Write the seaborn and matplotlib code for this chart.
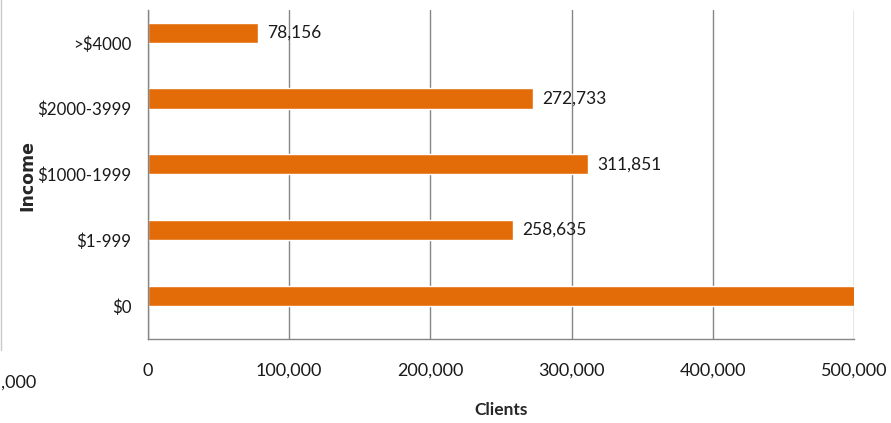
import matplotlib
matplotlib.use("Agg")
import matplotlib.pyplot as plt
import seaborn as sns
import pandas as pd
from matplotlib.lines import Line2D

categories = ["$0", "$1-999", "$1000-1999", "$2000-3999", ">$4000"]
clients = [560000, 258635, 311851, 272733, 78156]
labels = ["", "258,635", "311,851", "272,733", "78,156"]
xticks = [0, 100000, 200000, 300000, 400000, 500000]
xtick_labels = ["0", "100,000", "200,000", "300,000", "400,000", "500,000"]
series_levels = ["Clients", "(empty)"]

sns.set_theme(style="white")
plt.rcParams["font.family"] = ["Lato", "DejaVu Sans"]

df = pd.DataFrame({"Income": categories, "Clients": clients, "Series": "Clients"})
order = categories[::-1]

fig = plt.figure(figsize=(8.91, 4.23), dpi=100)
ax = fig.add_axes([148/891, 1-339/423, (854-148)/891, (339-10)/423])
sns.barplot(data=df, y="Income", x="Clients", order=order, hue="Series",
            hue_order=series_levels, palette=["#E36C09", "#4F81BD"], dodge=True,
            width=0.62, ax=ax, saturation=1, legend=False)
ax.set_xlim(0, 500000)
ax.set_ylim(4.5, -0.5)
ax.set_xticks(xticks)
ax.set_xticklabels(xtick_labels, fontsize=13, color="#1a1a1a")
ax.tick_params(axis="y", labelsize=12.2, labelcolor="#1a1a1a")
ax.grid(axis="x", color="#868686", linewidth=1)
ax.set_axisbelow(True)
for s in ["top", "right"]:
    ax.spines[s].set_visible(False)
for s in ["left", "bottom"]:
    ax.spines[s].set_color("#868686")
    ax.spines[s].set_linewidth(1)
ax.set_yticks([i for i in range(5)])
ax.set_yticklabels(order)
ax.tick_params(axis="y", length=0, pad=12)
ax.set_yticks([i - 0.5 for i in range(6)], minor=True)
ax.tick_params(axis="y", which="minor", length=5, color="#868686", width=1, direction="out")
ax.tick_params(axis="x", length=7, color="#868686", width=1, direction="out", pad=10)

labs = dict(zip(categories, labels))
ax.bar_label(ax.containers[0], labels=[labs[c] for c in order], padding=6.5,
             fontsize=12.5, color="#1a1a1a")

ax.set_xlabel("Clients", fontsize=12.5, fontweight="bold", labelpad=17)
ax.set_ylabel("")
fig.text(27/891, 1-175/423, "Income", rotation=90, ha="center", va="center",
         fontsize=12.5, fontweight="bold", fontfamily="DejaVu Sans")
fig.text(0.5/891, 1-383/423, ",000", ha="left", va="center", fontsize=13, color="#1a1a1a")
fig.add_artist(Line2D([0.8/891, 0.8/891], [1-350/423, 1.0], color="#c8c8c8", linewidth=1,
                      transform=fig.transFigure))
fig.savefig("out.png", dpi=100)
